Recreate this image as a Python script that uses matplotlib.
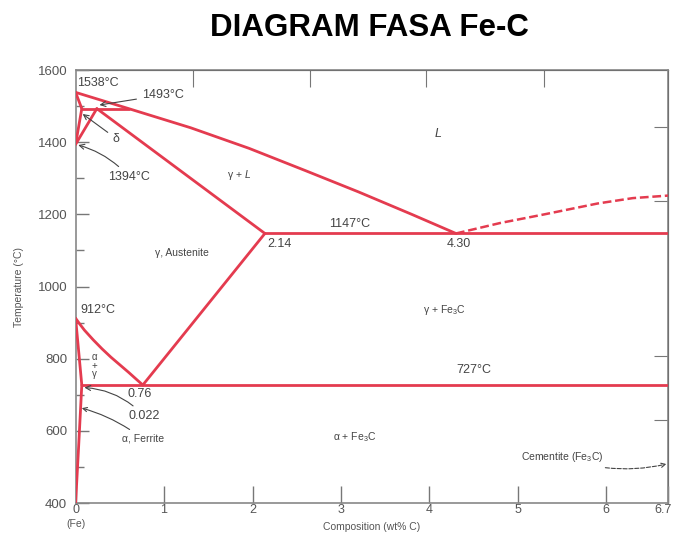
# Diagram fasa Fe-C
import matplotlib
matplotlib.use('Agg')
import matplotlib.pyplot as plt
import matplotlib.transforms as mtransforms

plt.rcParams['font.family'] = ['Liberation Sans', 'DejaVu Sans']
plt.rcParams['mathtext.fontset'] = 'custom'
plt.rcParams['mathtext.rm'] = 'Liberation Sans'
plt.rcParams['mathtext.it'] = 'Liberation Sans:italic'

# phase boundaries (wt% C, deg C)
liquidus_x = [0, 0.6, 1.3, 1.96, 2.6, 3.2, 3.8, 4.30]
liquidus_T = [1538, 1493, 1440, 1383, 1321, 1262, 1200, 1147]
liquidus_fe3c_x = [4.30, 4.8, 5.3, 5.9, 6.3, 6.7]
liquidus_fe3c_T = [1147, 1176, 1200, 1230, 1245, 1252]
peritectic_x = [0.07, 0.6]
peritectic_T = [1493, 1493]
delta_solidus_x = [0, 0.07]
delta_solidus_T = [1538, 1493]
delta_solvus_x = [0.07, 0]
delta_solvus_T = [1493, 1394]
gamma_delta_x = [0.24, 0]
gamma_delta_T = [1493, 1394]
gamma_solidus_x = [0.24, 2.14]
gamma_solidus_T = [1493, 1147]
eutectic_x = [2.14, 6.7]
eutectic_T = [1147, 1147]
acm_x = [2.14, 0.76]
acm_T = [1147, 727]
a3_x = [0, 0.05, 0.1, 0.2, 0.3, 0.4, 0.5, 0.6, 0.7, 0.76]
a3_T = [912, 895, 879, 852, 827, 804, 783, 762, 740, 727]
eutectoid_x = [0.07, 6.7]
eutectoid_T = [727, 727]
ferrite_x = [0, 0.07]
ferrite_T = [912, 727]
ferrite_solvus_x = [0.07, 0.035, 0]
ferrite_solvus_T = [727, 560, 400]

x_ticks = [0, 1, 2, 3, 4, 5, 6, 6.7]
x_labels = ['0', '1', '2', '3', '4', '5', '6', '6.7']
y_ticks = [400, 600, 800, 1000, 1200, 1400, 1600]
top_ticks = [1.33, 2.65, 3.96, 5.29]
right_ticks = [630, 807, 1237, 1442]

red = '#e43b4f'
grey = '#444444'

fig = plt.figure(figsize=(6.75, 5.41), dpi=100)
ax = fig.add_axes([0.112, 0.0702, 0.878, 0.8004])

solid = [(liquidus_x, liquidus_T), (peritectic_x, peritectic_T),
         (delta_solidus_x, delta_solidus_T), (delta_solvus_x, delta_solvus_T),
         (gamma_delta_x, gamma_delta_T), (gamma_solidus_x, gamma_solidus_T),
         (eutectic_x, eutectic_T), (acm_x, acm_T), (a3_x, a3_T),
         (eutectoid_x, eutectoid_T), (ferrite_x, ferrite_T),
         (ferrite_solvus_x, ferrite_solvus_T)]
for xs, ts in solid:
    ax.plot(xs, ts, color=red, lw=2, solid_capstyle='round',
            solid_joinstyle='round', zorder=3)
ax.plot(liquidus_fe3c_x, liquidus_fe3c_T, color=red, lw=1.8, ls=(0, (3.5, 1.5)), zorder=3)

ax.set_xlim(0, 6.7)
ax.set_ylim(400, 1600)
ax.set_xticks(x_ticks)
ax.set_xticklabels(x_labels)
ax.set_yticks(y_ticks)
ax.set_yticks(range(500, 1600, 200), minor=True)
ax.tick_params(axis='both', which='both', direction='in', colors='#777777',
               labelcolor='#555555', labelsize=9.5, width=1)
ax.tick_params(axis='x', length=12, pad=1, labelsize=9)
ax.tick_params(axis='y', which='major', length=9, pad=6)
ax.tick_params(axis='y', which='minor', length=6)
# keep the last label inside the picture
last = ax.get_xticklabels()[-1]
last.set_transform(last.get_transform() +
                   mtransforms.ScaledTranslation(-4 / 72, 0, fig.dpi_scale_trans))
for s in ax.spines.values():
    s.set_color('#888888')
    s.set_linewidth(1.2)

top = ax.secondary_xaxis('top')
top.set_xticks(top_ticks)
top.tick_params(direction='in', length=12, colors='#777777', labeltop=False)
right = ax.secondary_yaxis('right')
right.set_yticks(right_ticks)
right.tick_params(direction='in', length=10, colors='#777777', labelright=False)

ax.set_xlabel('Composition (wt% C)', fontsize=7.5, color='#555555', labelpad=4)
ax.set_ylabel('Temperature (°C)', fontsize=7.5, color='#555555', labelpad=10)
ax.text(0, 342, '(Fe)', fontsize=7.5, color='#555555', ha='center', va='center')

fig.suptitle('DIAGRAM FASA Fe-C', x=0.548, y=0.976, fontsize=22.5, fontweight='bold')

fs = 9
ax.text(0.02, 1565, '1538°C', fontsize=fs, color=grey, va='center')
ax.text(3.1, 1172, '1147°C', fontsize=fs, color=grey, ha='center', va='center')
ax.text(2.17, 1118, '2.14', fontsize=fs, color=grey, va='center')
ax.text(4.33, 1118, '4.30', fontsize=fs, color=grey, ha='center', va='center')
ax.text(0.05, 935, '912°C', fontsize=fs, color=grey, va='center')
ax.text(4.5, 769, '727°C', fontsize=fs, color=grey, ha='center', va='center')
ax.text(0.72, 703, '0.76', fontsize=fs, color=grey, ha='center', va='center')
ax.text(4.1, 1425, '$L$', fontsize=fs, color=grey, ha='center', va='center')
ax.text(1.85, 1310, 'γ + $L$', fontsize=7.5, color=grey, ha='center', va='center')
ax.text(1.2, 1093, 'γ, Austenite', fontsize=7.5, color=grey, ha='center', va='center')
ax.text(4.17, 935, 'γ + Fe$_3$C', fontsize=7.5, color=grey, ha='center', va='center')
ax.text(3.15, 583, 'α + Fe$_3$C', fontsize=7.5, color=grey, ha='center', va='center')
ax.text(0.21, 805, 'α', fontsize=7, color=grey, ha='center', va='center')
ax.text(0.21, 781, '+', fontsize=7, color=grey, ha='center', va='center')
ax.text(0.21, 757, 'γ', fontsize=7, color=grey, ha='center', va='center')

arrow = dict(arrowstyle='->', color=grey, lw=0.8, shrinkA=2, shrinkB=0)
ax.annotate('1493°C', xy=(0.27, 1503), xytext=(0.75, 1531), fontsize=fs, color=grey,
            va='center', arrowprops=arrow)
ax.annotate('δ', xy=(0.08, 1478), xytext=(0.42, 1410), fontsize=fs, color=grey,
            va='center', arrowprops=arrow)
ax.annotate('1394°C', xy=(0.03, 1392), xytext=(0.37, 1303), fontsize=fs, color=grey,
            va='center', arrowprops=dict(arrow, connectionstyle='arc3,rad=0.15'))
ax.annotate('0.022', xy=(0.1, 720), xytext=(0.6, 640), fontsize=fs, color=grey,
            va='center', arrowprops=dict(arrow, connectionstyle='arc3,rad=0.2'))
ax.annotate('α, Ferrite', xy=(0.07, 663), xytext=(0.52, 578), fontsize=7.5, color=grey,
            va='center', arrowprops=dict(arrow, connectionstyle='arc3,rad=0.1'))
ax.annotate('Cementite (Fe$_3$C)', xy=(6.68, 508), xytext=(5.5, 527), fontsize=7.5,
            color=grey, ha='center', va='center',
            arrowprops=dict(arrowstyle='->', color=grey, lw=0.8, ls='--',
                            shrinkA=4, shrinkB=0, connectionstyle='arc3,rad=0.15'))

fig.savefig('out.png', dpi=100)
